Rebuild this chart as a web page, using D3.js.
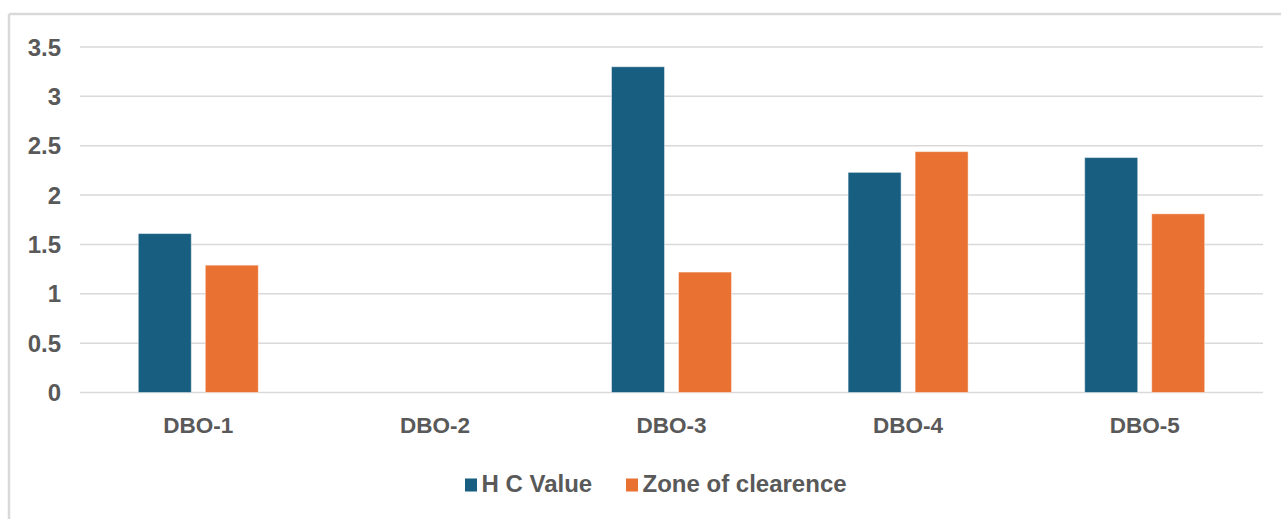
<!DOCTYPE html>
<html>
<head>
<meta charset="utf-8">
<script src="https://cdn.jsdelivr.net/npm/d3@7"></script>
<style>
  html, body { margin: 0; padding: 0; background: #fff; }
  svg { display: block; font-family: "Liberation Sans", Arial, sans-serif; }
</style>
</head>
<body>
<svg id="chart" width="1281" height="519"></svg>
<script>
// Sites and measured values
const categories = ["DBO-1", "DBO-2", "DBO-3", "DBO-4", "DBO-5"];
const seriesNames = ["H C Value", "Zone of clearence"];
const hcValues = [1.61, null, 3.30, 2.23, 2.38];
const zoneValues = [1.29, null, 1.22, 2.44, 1.81];
const yTicks = [0, 0.5, 1, 1.5, 2, 2.5, 3, 3.5];
const colors = ["#175E80", "#E97132"];

const svg = d3.select("#chart");
const W = 1281, H = 519;
const plot = { left: 80, right: 1263, top: 47, bottom: 392.5 };

// Chart frame (top and left edges visible)
svg.append("line").attr("x1", 9).attr("x2", W).attr("y1", 14).attr("y2", 14)
  .attr("stroke", "#d9d9d9").attr("stroke-width", 2.5);
svg.append("line").attr("x1", 9).attr("x2", 9).attr("y1", 14).attr("y2", H)
  .attr("stroke", "#d9d9d9").attr("stroke-width", 2.5);

const x = d3.scaleBand().domain(categories).range([plot.left, plot.right]);
const y = d3.scaleLinear().domain([0, 3.5]).range([plot.bottom, plot.top]);
const xSub = d3.scaleBand().domain(seriesNames).range([0, 120]).paddingInner(0.209);

// Gridlines
svg.append("g").selectAll("line").data(yTicks).join("line")
  .attr("x1", plot.left).attr("x2", plot.right)
  .attr("y1", d => y(d)).attr("y2", d => y(d))
  .attr("stroke", "#d9d9d9").attr("stroke-width", 1.5);

// Y tick labels
svg.append("g").selectAll("text").data(yTicks).join("text")
  .attr("x", 61).attr("y", d => y(d)).attr("dy", "0.36em")
  .attr("text-anchor", "end")
  .attr("font-size", 24).attr("font-weight", "bold").attr("fill", "#595959")
  .text(d => String(d));

// Bars
const rows = categories.map((c, i) => ({ cat: c, vals: [hcValues[i], zoneValues[i]] }));
const groups = svg.append("g").selectAll("g").data(rows).join("g")
  .attr("transform", d => `translate(${x(d.cat) + x.bandwidth() / 2 - 60},0)`);
groups.selectAll("rect")
  .data(d => d.vals.map((v, j) => ({ v, name: seriesNames[j], j })).filter(e => e.v != null))
  .join("rect")
  .attr("x", e => xSub(e.name))
  .attr("width", xSub.bandwidth())
  .attr("y", e => y(e.v))
  .attr("height", e => y(0) - y(e.v))
  .attr("fill", e => colors[e.j])
  .attr("stroke", "rgba(255,255,255,0.45)").attr("stroke-width", 1);

// X category labels
svg.append("g").selectAll("text").data(categories).join("text")
  .attr("x", d => x(d) + x.bandwidth() / 2).attr("y", 433)
  .attr("text-anchor", "middle")
  .attr("font-size", 22.5).attr("font-weight", "bold").attr("fill", "#595959")
  .text(d => d);

// Legend
const legendItems = [
  { name: seriesNames[0], color: colors[0], x: 465 },
  { name: seriesNames[1], color: colors[1], x: 626 }
];
const lg = svg.append("g").selectAll("g").data(legendItems).join("g")
  .attr("transform", d => `translate(${d.x},0)`);
lg.append("rect").attr("x", 0).attr("y", 478.5).attr("width", 12).attr("height", 13)
  .attr("fill", d => d.color);
lg.append("text").attr("x", 16.5).attr("y", 492)
  .attr("font-size", 24).attr("font-weight", "bold").attr("fill", "#595959")
  .text(d => d.name);
</script>
</body>
</html>
